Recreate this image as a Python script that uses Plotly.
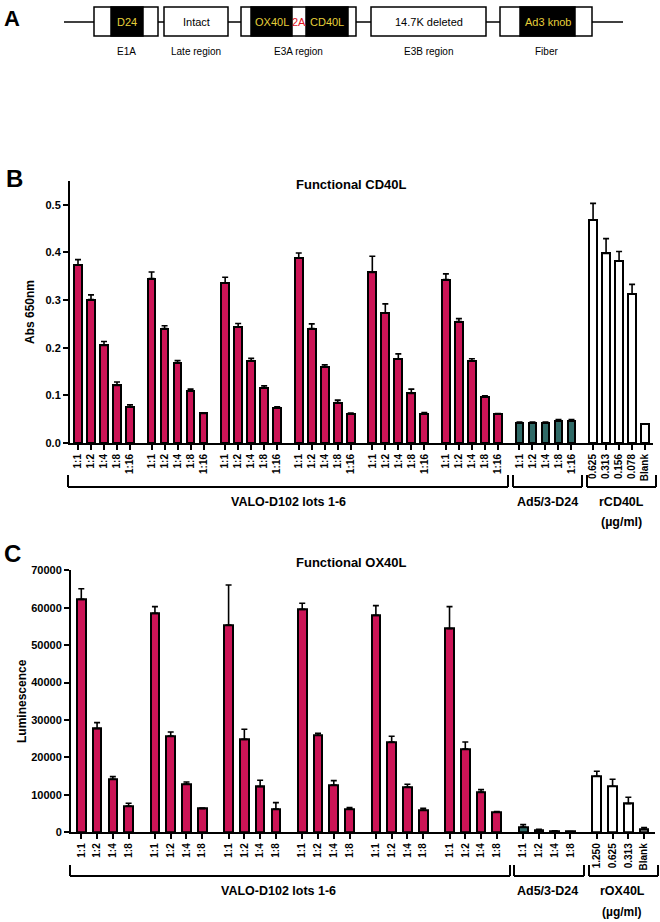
import plotly.graph_objects as go

# ---- data: panel B (Functional CD40L, Abs 650nm) ----
b_dilutions = ["1:1", "1:2", "1:4", "1:8", "1:16"]
b_rcd40l_labels = ["0.625", "0.313", "0.156", "0.078", "Blank"]
b_lots = [
    [0.374, 0.301, 0.205, 0.121, 0.076],
    [0.345, 0.240, 0.168, 0.110, 0.062],
    [0.336, 0.243, 0.173, 0.115, 0.073],
    [0.388, 0.240, 0.159, 0.085, 0.061],
    [0.358, 0.273, 0.176, 0.104, 0.061],
    [0.343, 0.255, 0.172, 0.096, 0.061],
]
b_lots_err = [
    [0.011, 0.010, 0.008, 0.007, 0.004],
    [0.014, 0.006, 0.005, 0.003, 0.001],
    [0.012, 0.008, 0.005, 0.005, 0.003],
    [0.011, 0.010, 0.005, 0.005, 0.002],
    [0.034, 0.019, 0.011, 0.009, 0.003],
    [0.012, 0.006, 0.005, 0.003, 0.001],
]
b_ad5 = [0.042, 0.042, 0.042, 0.047, 0.047]
b_ad5_err = [0.002, 0.002, 0.002, 0.002, 0.002]
b_rcd40l = [0.468, 0.398, 0.382, 0.313, 0.040]
b_rcd40l_err = [0.035, 0.031, 0.020, 0.020, 0.0]

# ---- data: panel C (Functional OX40L, Luminescence) ----
c_dilutions = ["1:1", "1:2", "1:4", "1:8"]
c_rox40l_labels = ["1.250", "0.625", "0.313", "Blank"]
c_lots = [
    [62240, 27700, 14160, 7030],
    [58500, 25730, 12910, 6320],
    [55390, 24840, 12200, 6230],
    [59570, 25910, 12640, 6140],
    [57970, 24130, 12110, 5970],
    [54410, 22260, 10770, 5340],
]
c_lots_err = [
    [2850, 1600, 710, 720],
    [1790, 1070, 540, 180],
    [10680, 2680, 1690, 1700],
    [1610, 540, 1160, 450],
    [2580, 1520, 710, 440],
    [5880, 1870, 630, 180],
]
c_ad5 = [1420, 620, 360, 180]
c_ad5_err = [630, 180, 60, 40]
c_rox40l = [14960, 12290, 7660, 710]
c_rox40l_err = [1340, 1870, 1690, 540]

CRIMSON = "#cc1456"
TEAL = "#2f6a67"
W, H = 660, 922
FONT = "Liberation Sans, Arial, sans-serif"


def px(x):
    return x / W


def py(y):
    return 1 - y / H


fig = go.Figure()


def add_panel(groups, errs, colors, labels, period, xa, ya, width):
    tickvals, ticktext = [], []
    for g, (vals, ev, col, lab) in enumerate(zip(groups, errs, colors, labels)):
        xs = [g * period + j for j in range(len(vals))]
        tickvals += xs
        ticktext += lab
        fig.add_trace(go.Bar(
            x=xs, y=vals, width=width, xaxis=xa, yaxis=ya,
            marker=dict(color=col, line=dict(color="black", width=2)),
            error_y=dict(type="data", array=ev, arrayminus=[0] * len(ev),
                         symmetric=False, color="black", thickness=1.6, width=3),
            showlegend=False,
        ))
    return tickvals, ticktext


b_groups = b_lots + [b_ad5, b_rcd40l]
b_errs = b_lots_err + [b_ad5_err, b_rcd40l_err]
b_cols = [CRIMSON] * 6 + [TEAL, "white"]
b_labs = [b_dilutions] * 7 + [b_rcd40l_labels]
btv, btt = add_panel(b_groups, b_errs, b_cols, b_labs, 5.66, "x", "y", 0.6)

c_groups = c_lots + [c_ad5, c_rox40l]
c_errs = c_lots_err + [c_ad5_err, c_rox40l_err]
c_cols = [CRIMSON] * 6 + [TEAL, "white"]
c_labs = [c_dilutions] * 7 + [c_rox40l_labels]
ctv, ctt = add_panel(c_groups, c_errs, c_cols, c_labs, 4.67, "x2", "y2", 0.55)

xfont = dict(family=FONT, size=10, color="black", weight="bold")
yfont = dict(family=FONT, size=11, color="black", weight="bold")
axis_common = dict(showline=True, linecolor="black", linewidth=2, ticks="outside",
                   tickwidth=1.5, ticklen=5, tickcolor="black", showgrid=False,
                   zeroline=False, automargin=False)

fig.update_layout(
    width=W, height=H,
    margin=dict(l=0, r=0, t=0, b=0),
    paper_bgcolor="white", plot_bgcolor="white",
    bargap=0,
    xaxis=dict(domain=[px(70), px(653)], range=[-0.615, 44.23], anchor="y",
               tickmode="array", tickvals=btv, ticktext=btt, tickangle=-90,
               tickfont=xfont, **axis_common),
    yaxis=dict(domain=[py(443), py(181)], range=[0, 0.55], anchor="x",
               tickmode="array", tickvals=[0, 0.1, 0.2, 0.3, 0.4, 0.5],
               tickformat=".1f", tickfont=yfont,
               title=dict(text="Abs 650nm", standoff=8,
                          font=dict(family=FONT, size=12, color="black", weight="bold")),
               **axis_common),
    xaxis2=dict(domain=[px(71), px(655)], range=[-0.653, 36.38], anchor="y2",
                tickmode="array", tickvals=ctv, ticktext=ctt, tickangle=-90,
                tickfont=xfont, **axis_common),
    yaxis2=dict(domain=[py(832.3), py(570.3)], range=[0, 70000], anchor="x2",
                tickmode="array", tickvals=list(range(0, 70001, 10000)),
                tickformat="d", tickfont=yfont,
                title=dict(text="Luminescence", standoff=2,
                           font=dict(family=FONT, size=12, color="black", weight="bold")),
                **axis_common),
)

ann = []


def text(x, y, s, size, color="black", bold=True, xanchor="center"):
    ann.append(dict(x=px(x), y=py(y), xref="paper", yref="paper", text=s,
                    showarrow=False, xanchor=xanchor, yanchor="middle",
                    font=dict(family=FONT, size=size, color=color,
                              weight="bold" if bold else "normal")))


shapes = []


def line(x0, y0, x1, y1, w=2):
    shapes.append(dict(type="line", xref="paper", yref="paper",
                       x0=px(x0), y0=py(y0), x1=px(x1), y1=py(y1),
                       line=dict(color="black", width=w)))


def rect(x0, y0, x1, y1, fill):
    shapes.append(dict(type="rect", xref="paper", yref="paper",
                       x0=px(x0), y0=py(y0), x1=px(x1), y1=py(y1),
                       fillcolor=fill, line=dict(color="black", width=1.5)))


# ---- panel A: genome schematic ----
text(12, 19, "A", 22, xanchor="center")
line(64, 22, 623, 22, 1.5)
YEL = "#e6cf3a"
rect(94, 7, 158, 36, "white")
rect(111, 7, 143, 36, "black")
text(127, 21.5, "D24", 11, YEL, bold=False)
rect(164, 7, 228, 36, "white")
text(196, 21.5, "Intact", 11, bold=False)
rect(241, 7, 356, 36, "white")
rect(251, 7, 292, 36, "black")
rect(306, 7, 348, 36, "black")
text(271.5, 21.5, "OX40L", 11, YEL, bold=False)
text(299, 21.5, "2A", 11, "#e0141e", bold=False)
text(327, 21.5, "CD40L", 11, YEL, bold=False)
rect(371, 7, 486, 36, "white")
text(428.5, 21.5, "14.7K deleted", 11, bold=False)
rect(500, 7, 592, 36, "white")
rect(520, 7, 575, 36, "black")
text(547.5, 21.5, "Ad3 knob", 11, YEL, bold=False)
for lx, lab in [(126, "E1A"), (196, "Late region"), (298, "E3A region"),
                (428.5, "E3B region"), (546, "Fiber")]:
    text(lx, 51, lab, 10, bold=False)

# ---- panel B labels & brackets ----
text(14, 178, "B", 24)
text(351, 184, "Functional CD40L", 13)
for x0, x1 in [(68, 508), (513, 582), (587, 656)]:
    line(x0, 475, x0, 487)
    line(x1, 475, x1, 487)
    line(x0, 487, x1, 487)
text(288, 502, "VALO-D102 lots 1-6", 12.5)
text(547, 502, "Ad5/3-D24", 12.5)
text(621, 502, "rCD40L", 12.5)
text(621, 522, "(µg/ml)", 12.5)

# ---- panel C labels & brackets ----
text(12, 553, "C", 24)
text(351, 562, "Functional OX40L", 13)
for x0, x1 in [(70, 510), (514, 584), (589, 658)]:
    line(x0, 865, x0, 876)
    line(x1, 865, x1, 876)
    line(x0, 876, x1, 876)
text(278, 891, "VALO-D102 lots 1-6", 12.5)
text(547, 891, "Ad5/3-D24", 12.5)
text(622, 891, "rOX40L", 12.5)
text(622, 912, "(µg/ml)", 12)

fig.update_layout(annotations=ann, shapes=shapes)

# remove the default page margin so the figure sits at the window origin
fig.write_html("out.html",
               config={"displayModeBar": False},
               post_script="document.body.style.margin='0';"
                           "document.body.style.overflow='hidden';")
